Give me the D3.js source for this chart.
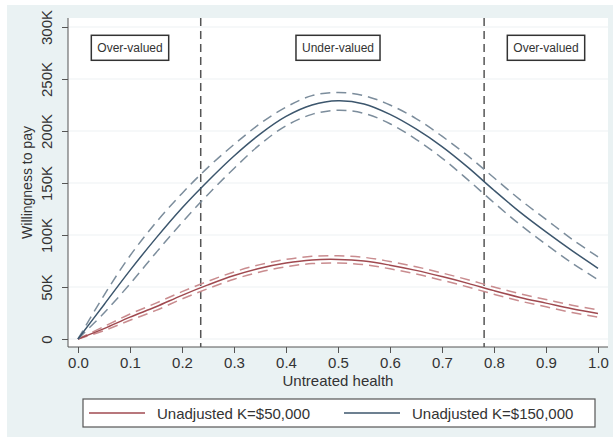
<!DOCTYPE html>
<html>
<head>
<meta charset="utf-8">
<script src="https://cdn.jsdelivr.net/npm/d3@7"></script>
<style>
  body { margin: 0; background: #fff; }
  text { font-family: "Liberation Sans", Arial, sans-serif; fill: #333; }
</style>
</head>
<body>
<svg id="chart" width="613" height="446"></svg>
<script>
// untreated health grid
const health = [0, 0.05, 0.1, 0.15, 0.2, 0.25, 0.3, 0.35, 0.4, 0.45, 0.5,
                0.55, 0.6, 0.65, 0.7, 0.75, 0.8, 0.85, 0.9, 0.95, 1.0];

// K = $50,000 (willingness to pay, $)
const wtp50 =      [0, 10000, 21000, 31000, 42000, 52000, 61000, 68000, 73000, 76000, 76500,
                    75000, 71000, 66000, 60000, 53500, 46500, 40000, 34500, 29000, 24500];
const wtp50Upper = [0, 12000, 24000, 34500, 45500, 55500, 64500, 71500, 76500, 79500, 80000,
                    78500, 74500, 69500, 63500, 57000, 50000, 43500, 38000, 32500, 28000];
const wtp50Lower = [0, 8000, 18000, 27500, 38500, 48500, 57500, 64500, 69500, 72500, 73000,
                    71500, 67500, 62500, 56500, 50000, 43000, 36500, 31000, 25500, 21000];

// K = $150,000
const wtp150 =      [0, 33000, 66000, 97000, 126000, 152000, 176000, 197000, 214000, 225000, 229000,
                     226000, 216000, 202000, 185000, 165000, 143000, 122000, 103000, 85000, 68000];
const wtp150Upper = [0, 42000, 80000, 112000, 140000, 165000, 187000, 207000, 223000, 234000, 237000,
                     234000, 225000, 212000, 195000, 176000, 155000, 134000, 115000, 96000, 79000];
const wtp150Lower = [0, 25000, 53000, 83000, 112000, 139000, 164000, 187000, 205000, 216000, 220000,
                     217000, 207000, 192000, 174000, 153000, 131000, 110000, 91000, 73000, 57000];

const xTicks = [0, 0.1, 0.2, 0.3, 0.4, 0.5, 0.6, 0.7, 0.8, 0.9, 1.0];
const yTicks = [0, 50000, 100000, 150000, 200000, 250000, 300000];
const cutoffs = [0.236, 0.781];
const regionNames = ["Over-valued", "Under-valued", "Over-valued"];
const regionAt = [0.1, 0.5, 0.9];
const regionY = 280000;
const seriesNames = ["Unadjusted K=$50,000", "Unadjusted K=$150,000"];

const svg = d3.select("#chart");
const W = 613, H = 446;

// backgrounds
svg.append("rect").attr("x", 7).attr("y", 5).attr("width", W - 7).attr("height", 432)
  .attr("fill", "#eaf2f3");
const plot = {left: 68, right: 608, top: 18, bottom: 347};
svg.append("rect").attr("x", plot.left).attr("y", plot.top)
  .attr("width", plot.right - plot.left).attr("height", plot.bottom - plot.top)
  .attr("fill", "#fff");

const x = d3.scaleLinear().domain([0, 1]).range([78, 598]);
const y = d3.scaleLinear().domain([0, 300000]).range([339, 27]);

// gridlines
svg.append("g").selectAll("line").data(yTicks).enter().append("line")
  .attr("x1", plot.left).attr("x2", plot.right)
  .attr("y1", d => y(d)).attr("y2", d => y(d))
  .attr("stroke", "#edf1f3").attr("stroke-width", 1);

// cutoff lines
svg.append("g").selectAll("line").data(cutoffs).enter().append("line")
  .attr("x1", d => x(d)).attr("x2", d => x(d))
  .attr("y1", plot.top).attr("y2", plot.bottom)
  .attr("stroke", "#555").attr("stroke-width", 1.5).attr("stroke-dasharray", "8,5");

// curves
const line = vals => d3.line()
  .x((d, i) => x(health[i]))
  .y(d => y(d))
  .curve(d3.curveCatmullRom)(vals);

const curves = [
  {v: wtp50Upper, c: "#c98c8f", dash: "10,6"},
  {v: wtp50Lower, c: "#c98c8f", dash: "10,6"},
  {v: wtp50, c: "#a04a50", dash: null},
  {v: wtp150Upper, c: "#7c8d9c", dash: "10,6"},
  {v: wtp150Lower, c: "#7c8d9c", dash: "10,6"},
  {v: wtp150, c: "#3c566d", dash: null}
];
svg.append("g").selectAll("path").data(curves).enter().append("path")
  .attr("d", d => line(d.v))
  .attr("fill", "none")
  .attr("stroke", d => d.c)
  .attr("stroke-width", 1.5)
  .attr("stroke-dasharray", d => d.dash);

// region labels
const boxes = svg.append("g").selectAll("g").data(regionNames).enter().append("g")
  .attr("transform", (d, i) => "translate(" + x(regionAt[i]) + "," + y(regionY) + ")");
boxes.append("text").text(d => d)
  .attr("text-anchor", "middle").attr("dy", "0.35em")
  .style("font-size", "12px");
boxes.insert("rect", "text")
  .each(function () {
    const w = this.parentNode.querySelector("text").getComputedTextLength() + 12;
    d3.select(this).attr("x", -w / 2).attr("width", w);
  })
  .attr("y", -12.5).attr("height", 25)
  .attr("fill", "#fff").attr("stroke", "#333").attr("stroke-width", 1.5);

// axes
const xAxis = svg.append("g").attr("transform", "translate(0," + plot.bottom + ")")
  .call(d3.axisBottom(x).tickValues(xTicks).tickFormat(d3.format(".1f")).tickSize(6).tickSizeOuter(0));
xAxis.select(".domain").attr("d", "M" + plot.left + ",0H" + plot.right);
xAxis.selectAll("line").attr("stroke", "#555");
xAxis.select(".domain").attr("stroke", "#555");
xAxis.selectAll("text").attr("y", 21).attr("dy", 0)
  .style("font-size", "15px").style("font-family", "Liberation Sans, Arial, sans-serif").attr("fill", "#333");

const yAxis = svg.append("g").attr("transform", "translate(" + plot.left + ",0)")
  .call(d3.axisLeft(y).tickValues(yTicks).tickFormat(d => d === 0 ? "0" : (d / 1000) + "K").tickSize(6).tickSizeOuter(0));
yAxis.select(".domain").attr("d", "M0," + plot.top + "V" + plot.bottom).attr("stroke", "#555");
yAxis.selectAll("line").attr("stroke", "#555");
yAxis.selectAll("text")
  .attr("transform", "rotate(-90)")
  .attr("x", 0).attr("y", -16).attr("dy", 0)
  .attr("text-anchor", "middle")
  .style("font-size", "15px").style("font-family", "Liberation Sans, Arial, sans-serif").attr("fill", "#333");

// axis titles
svg.append("text").text("Untreated health")
  .attr("x", x(0.5)).attr("y", 386).attr("text-anchor", "middle")
  .style("font-size", "15px");
svg.append("text").text("Willingness to pay")
  .attr("transform", "translate(32," + ((plot.top + plot.bottom) / 2) + ") rotate(-90)")
  .attr("text-anchor", "middle")
  .style("font-size", "14px");

// legend
const legend = svg.append("g");
legend.append("rect").attr("x", 83).attr("y", 399).attr("width", 512).attr("height", 28)
  .attr("fill", "#fff").attr("stroke", "#555").attr("stroke-width", 1.2);
const legendColors = ["#a04a50", "#3c566d"];
const legendX = [89, 344];
seriesNames.forEach((name, i) => {
  legend.append("line")
    .attr("x1", legendX[i]).attr("x2", legendX[i] + 56)
    .attr("y1", 413).attr("y2", 413)
    .attr("stroke", legendColors[i]).attr("stroke-width", 1.5);
  legend.append("text").text(name)
    .attr("x", legendX[i] + 68).attr("y", 419)
    .style("font-size", "15px");
});
</script>
</body>
</html>
